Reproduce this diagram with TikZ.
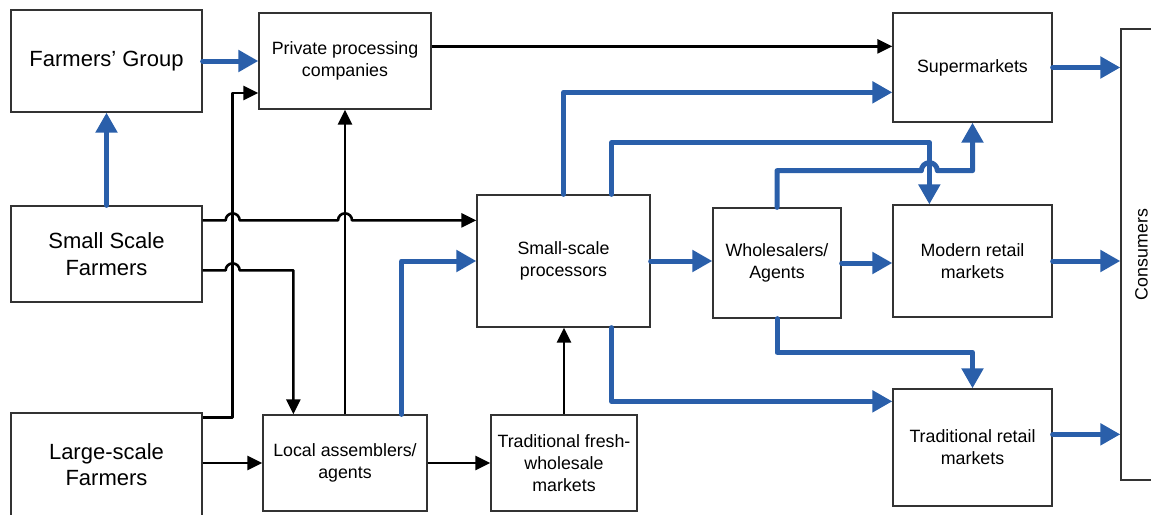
\documentclass[tikz,border=0pt]{standalone}
\usepackage{fontspec}
\setmainfont{Liberation Sans}
\usepackage{graphicx}
\usetikzlibrary{arrows.meta,calc}
\definecolor{flowblue}{RGB}{42,95,170}

\begin{document}
\begin{tikzpicture}[x=1pt,y=-1pt,
  box/.style={draw=black!80, line width=1.3pt, inner sep=0pt, align=center,
              font=\fontsize{17.8}{22}\selectfont},
  bigbox/.style={box, font=\fontsize{22}{26.5}\selectfont},
  blk/.style={line width=2.6pt, line join=round,
              -{Triangle[length=15pt,width=14pt]}},
  blu/.style={flowblue, line width=5pt, line cap=round, line join=round,
              -{Triangle[length=20pt,width=21pt]}}]

\useasboundingbox (0,0) rectangle (1151,514);

% ---- boxes ----
\node[bigbox, minimum width=191pt, minimum height=102pt] (fg)  at (106.5,61)    {Farmers’ Group};
\node[box,    minimum width=172pt, minimum height=96pt]  (ppc) at (345,61)      {Private processing\\companies};
\node[bigbox, minimum width=191pt, minimum height=96pt]  (ssf) at (106.5,254)   {Small Scale\\Farmers};
\node[bigbox, minimum width=191pt, minimum height=103pt] (lsf) at (106.5,464.5) {Large-scale\\Farmers};
\node[box,    minimum width=164pt, minimum height=96pt]  (la)  at (345,463)     {Local assemblers/\\agents};
\node[box,    minimum width=146pt, minimum height=96pt]  (tfw) at (564,463)     {Traditional fresh-\\wholesale\\markets};
\node[box,    minimum width=173pt, minimum height=132pt] (ssp) at (563.5,261)   {Small-scale\\processors};
\node[box,    minimum width=128pt, minimum height=110pt] (wa)  at (777,263)     {Wholesalers/\\Agents};
\node[box,    minimum width=159pt, minimum height=109pt] (sm)  at (972.5,67.5)  {Supermarkets};
\node[box,    minimum width=159pt, minimum height=112pt] (mrm) at (972.5,261)   {Modern retail\\markets};
\node[box,    minimum width=159pt, minimum height=117pt] (trm) at (972.5,447.5) {Traditional retail\\markets};
\node[box,    minimum width=41pt,  minimum height=451pt] (con) at (1141.5,254.5) {\rotatebox{90}{Consumers}};

% ---- routing points ----
\coordinate (k1)  at ([yshift=-5pt]lsf.north east);   % start of the lane up to the companies
\coordinate (k2)  at ([xshift=30pt]k1);               % its vertical run
\coordinate (s4)  at ([yshift=-15pt]ssf.north east);
\coordinate (s5)  at ([yshift=-65pt]ssf.north east);
\coordinate (t5)  at ([xshift=31pt]la.north west);
\coordinate (s13) at ([xshift=-39pt]ssp.north east);
\coordinate (t13) at ([xshift=37pt]mrm.north west);
\coordinate (s18) at ([xshift=-39pt]ssp.south east);
\coordinate (l1)  at ([yshift=-20pt]sm.south);
\coordinate (l2)  at ([yshift=-48pt]sm.south);
\coordinate (l3)  at ([yshift=36pt]trm.north);

% ---- black flows ----
\draw[blk] ([yshift=-34pt]ppc.north east) -- ([yshift=-34pt]ppc.north east -| sm.west);
\draw[blk] (k1) -- (k2) |- ([yshift=-32pt]ppc.west);
\draw[blk] (s4) -- ($(s4 -| k2)+(-7pt,0)$) arc[start angle=180,end angle=0,radius=7pt]
           -- ($(s4 -| la.north)+(-7pt,0)$) arc[start angle=180,end angle=0,radius=7pt]
           -- (s4 -| ssp.west);
\draw[blk] (s5) -- ($(s5 -| k2)+(-7pt,0)$) arc[start angle=180,end angle=0,radius=7pt]
           -- (s5 -| t5) -- (t5);
\draw[blk] (la.west -| lsf.east) -- (la.west);
\draw[blk] (la.north) -- (ppc.south);
\draw[blk] (la.east) -- (tfw.west);
\draw[blk] (tfw.north) -- (tfw.north |- ssp.south);

% ---- blue flows ----
\draw[blu] (fg.east) -- (ppc.west);
\draw[blu] (ssf.north) -- (fg.south);
\draw[blu] ([xshift=-26pt]la.north east) |- (ssp.west);
\draw[blu] (ssp.north) |- ([yshift=-80pt]sm.north west);
\draw[blu] (s13) |- (t13 |- l1) -- (t13);
\draw[blu] (wa.north) |- ($(t13 |- l2)+(-8pt,0)$) arc[start angle=180,end angle=0,radius=8pt]
           -- (sm.south |- l2) -- (sm.south);
\draw[blu] (ssp.east) -- (ssp.east -| wa.west);
\draw[blu] (wa.east) -- (wa.east -| mrm.west);
\draw[blu] (wa.south) |- (l3) -- (trm.north);
\draw[blu] (s18) |- ([yshift=-13pt]trm.north west);
\draw[blu] (sm.east) -- (sm.east -| con.west);
\draw[blu] (mrm.east) -- (mrm.east -| con.west);
\draw[blu] ([yshift=-46pt]trm.north east) -- ([yshift=-46pt]trm.north east -| con.west);
\end{tikzpicture}
\end{document}
